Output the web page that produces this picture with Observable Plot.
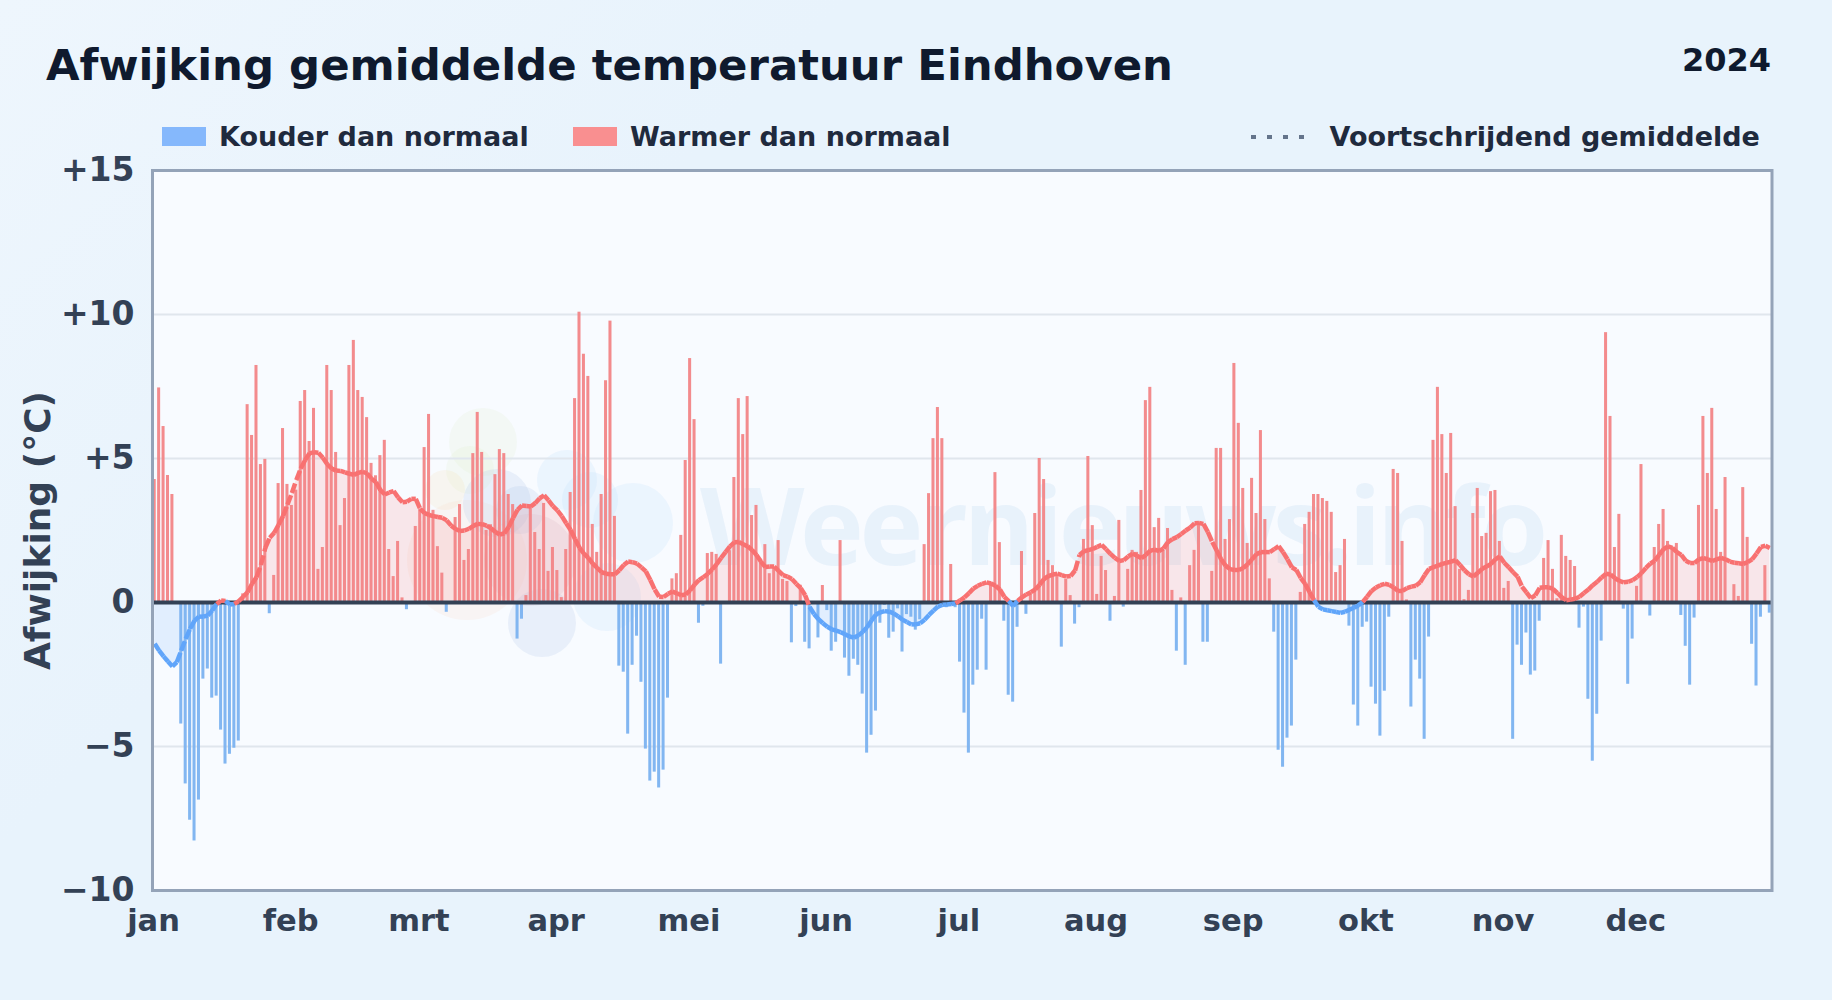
<!DOCTYPE html>
<html lang="nl">
<head>
<meta charset="utf-8">
<script src="https://cdn.jsdelivr.net/npm/d3@7"></script>
<script src="https://cdn.jsdelivr.net/npm/@observablehq/plot@0.6"></script>
<style>
html,body{margin:0;padding:0;width:1832px;height:1000px;overflow:hidden;background:linear-gradient(135deg,#eef6fd 0%,#e8f3fc 30%,#e8f3fc 100%);font-family:"DejaVu Sans",sans-serif}
#stage{position:relative;width:1832px;height:1000px}
#chart{position:absolute;left:0;top:0}
.t{position:absolute;font-weight:700;white-space:nowrap;line-height:1}
#title{left:46px;top:44px;font-size:43.4px;color:#0f1a2e}
#year{right:61px;top:44px;font-size:32px;color:#0f1a2e}
.lg{top:123px;font-size:27px;color:#1f2a3d}
.sw{position:absolute;top:127px;width:44px;height:19px}
</style>
</head>
<body>
<div id="stage">
  <div id="chart"></div>
  <div class="t" id="title">Afwijking gemiddelde temperatuur Eindhoven</div>
  <div class="t" id="year">2024</div>
  <div class="sw" style="left:162px;background:#85b8fc"></div>
  <div class="t lg" style="left:219px">Kouder dan normaal</div>
  <div class="sw" style="left:573px;background:#f98f90"></div>
  <div class="t lg" style="left:630px">Warmer dan normaal</div>
  <svg style="position:absolute;left:1251px;top:128px" width="60" height="18"><line x1="0" x2="60" y1="9" y2="9" stroke="#64748b" stroke-width="4" stroke-dasharray="5 11"></line></svg>
  <div class="t lg" style="left:1329.5px">Voortschrijdend gemiddelde</div>
</div>
<script>
const monthLabels = ["jan","feb","mrt","apr","mei","jun","jul","aug","sep","okt","nov","dec"];
const yTicks = [-10,-5,0,5,10,15];
const yTickLabels = ["−10","−5","0","+5","+10","+15"];
const deviation = [
4.27,7.45,6.11,4.41,3.75,0,-4.22,-6.3,-7.56,-8.28,
-6.86,-2.66,-2.31,-3.32,-3.25,-4.43,-5.61,-5.27,-5.06,-4.81,
.3,6.87,5.8,8.23,4.79,4.97,-.39,.94,4.13,6.04,
4.1,3.37,3.9,6.98,7.36,5.59,6.74,1.15,1.91,8.23,
7.36,5.21,2.67,3.61,8.23,9.1,7.36,7.12,6.42,4.83,
4.4,5.1,5.63,1.84,.9,2.12,.16,-.25,0,2.64,
3.25,5.38,6.53,3.2,1.94,1.02,-.34,0,2.95,3.4,
1.46,1.84,5.17,6.6,5.21,2.5,2.7,4.44,5.31,5.17,
3.75,3.4,-1.27,-.58,.24,3.33,2.43,1.84,3.44,1.08,
1.91,1.11,.17,1.84,3.82,7.08,10.08,8.62,7.85,2.71,
1.74,3.75,7.7,9.77,2.99,-2.21,-2.42,-4.57,-2.18,-1.17,
-2.77,-5.09,-6.2,-5.89,-6.44,-5.82,-3.32,.82,1.0,2.33,
4.93,8.47,6.35,-.72,-.13,1.7,1.74,1.67,-2.14,0,
1.8,4.34,7.08,5.83,7.15,3.02,3.37,1.5,2.01,1.0,
1.2,2.15,.8,.73,-1.4,-.14,.6,-1.38,-1.61,0,
-1.23,.59,-.28,-1.69,-1.38,2.15,-1.93,-2.56,-1.97,-2.18,
-3.18,-5.23,-4.61,-3.77,-.72,-.1,-1.24,-1.03,-.22,-1.72,
-.42,-.51,-.96,-.6,2.01,3.78,5.69,6.77,5.69,-.18,
1.32,-.18,-2.07,-3.84,-5.23,-2.87,-2.35,-.58,-2.35,.7,
4.51,2.08,-.65,-3.22,-3.46,-.86,1.77,-.41,.3,3.09,
5.0,4.27,1.46,1.28,.9,-1.55,.8,.24,-.75,-.18,
2.19,5.07,2.67,.28,1.6,1.11,-.65,.21,2.85,-.16,
1.15,1.81,1.74,3.89,7.01,7.47,2.6,2.92,1.8,2.57,
.42,-1.69,.16,-2.18,1.28,1.81,2.67,-1.38,-1.38,1.08,
5.35,5.35,2.19,2.88,8.3,6.22,3.96,2.05,4.31,3.09,
5.97,2.88,.82,-1.03,-5.13,-5.72,-4.71,-4.29,-2.0,.35,
2.71,3.13,3.75,3.75,3.61,3.51,3.13,1.04,1.28,2.19,
-.82,-3.56,-4.29,-.86,-.68,-2.94,-3.53,-4.64,-3.08,-.51,
4.62,4.48,2.12,.09,-3.63,-2.0,-2.66,-4.75,-1.2,5.63,
7.47,5.83,4.48,5.87,3.33,1.15,.1,.42,3.09,3.96,
2.29,2.4,3.85,3.89,2.12,.49,.73,-4.75,-1.48,-2.18,
-1.06,-2.52,-2.38,-.65,1.53,2.15,1.15,.13,2.33,1.6,
1.46,1.25,-.89,-.16,-3.36,-5.51,-3.88,-1.34,9.37,6.46,
1.91,3.06,-.23,-2.84,-1.27,.56,4.79,0,-.47,1.91,
2.71,3.23,2.12,1.92,2.05,-.45,-1.52,-2.87,-.54,3.37,
6.46,4.48,6.74,3.23,1.74,4.34,0,.62,.21,3.99,
2.26,-1.45,-2.9,-.51,1.28,-.37
];
const rolling = [
-1.43,-1.67,-1.87,-2.05,-2.22,-2.07,-1.67,-1.26,-.91,-.63,
-.49,-.49,-.45,-.28,-.05,.07,.05,-.07,-.05,.05,
.2,.36,.65,.88,1.3,1.9,2.25,2.42,2.7,3.0,
3.4,3.8,4.25,4.65,4.95,5.18,5.22,5.2,5.03,4.8,
4.65,4.58,4.57,4.52,4.47,4.43,4.5,4.54,4.48,4.3,
4.18,3.9,3.75,3.82,3.87,3.65,3.48,3.5,3.6,3.6,
3.25,3.1,3.04,3.0,2.97,2.94,2.85,2.67,2.55,2.48,
2.5,2.56,2.66,2.73,2.72,2.67,2.58,2.45,2.36,2.4,
2.62,2.94,3.22,3.37,3.35,3.33,3.45,3.62,3.72,3.55,
3.35,3.2,3.0,2.75,2.52,2.2,1.9,1.7,1.55,1.35,
1.2,1.05,1.0,.98,.98,1.12,1.3,1.42,1.4,1.35,
1.22,1.08,.78,.45,.2,.19,.3,.38,.32,.25,
.28,.42,.62,.78,.88,1.0,1.15,1.33,1.55,1.75,
1.95,2.09,2.1,2.02,1.95,1.82,1.65,1.42,1.23,1.25,
1.25,1.1,.95,.9,.82,.65,.5,.25,-.15,-.4,
-.58,-.72,-.84,-.93,-.98,-1.03,-1.1,-1.18,-1.22,-1.15,
-1.02,-.86,-.62,-.42,-.34,-.3,-.32,-.38,-.48,-.6,
-.68,-.76,-.76,-.72,-.6,-.43,-.28,-.14,-.08,-.07,
-.05,-.03,.07,.18,.32,.48,.58,.65,.7,.66,
.58,.45,.2,.05,-.12,.05,.18,.28,.36,.45,
.62,.82,.92,.97,1.0,.95,.9,.92,1.11,1.65,
1.78,1.82,1.86,1.93,2.0,1.85,1.69,1.55,1.44,1.47,
1.6,1.7,1.62,1.54,1.65,1.8,1.83,1.79,1.88,2.1,
2.2,2.27,2.38,2.5,2.6,2.75,2.76,2.73,2.45,2.1,
1.81,1.5,1.28,1.16,1.13,1.13,1.2,1.33,1.5,1.68,
1.75,1.75,1.75,1.85,1.96,1.75,1.5,1.22,1.13,.85,
.65,.36,.08,-.15,-.24,-.27,-.3,-.33,-.36,-.32,
-.25,-.18,-.1,.02,.2,.4,.52,.6,.65,.61,
.52,.4,.4,.5,.55,.58,.7,.95,1.17,1.23,
1.28,1.34,1.38,1.42,1.47,1.3,1.12,.98,.9,1.03,
1.17,1.25,1.34,1.5,1.6,1.38,1.22,1.05,.9,.55,
.35,.15,.25,.51,.53,.53,.47,.33,.18,.08,
.1,.13,.2,.33,.45,.6,.72,.87,1.0,.97,
.85,.75,.7,.72,.78,.88,1.02,1.2,1.35,1.45,
1.65,1.85,1.95,1.9,1.75,1.65,1.45,1.37,1.37,1.5,
1.54,1.5,1.44,1.5,1.55,1.5,1.42,1.38,1.36,1.34,
1.4,1.5,1.7,1.93,1.97,1.89
];

const RED = "#f87171", BLUE = "#60a5fa";
const dayStart = i => new Date(Date.UTC(2024,0,1+i));
const dayMid = i => new Date(Date.UTC(2024,0,1+i,12));
const bars = deviation.map((v,i)=>({v, a:dayStart(i), b:dayStart(i+1)}));
const avg = rolling.map((v,i)=>({v, x:dayMid(i)}));
const segs = avg.slice(1).map((p,i)=>({x1:avg[i].x,y1:avg[i].v,x2:p.x,y2:p.v,neg:(avg[i].v+p.v)<0}));
const monthStarts = monthLabels.map((_,m)=>new Date(Date.UTC(2024,m,1)));

function watermark(index, scales, values, dim){
  const g = d3.create("svg:g").attr("pointer-events","none");
  const blobs = [
    [483,442,34,"#dcefc0",.16],[470,470,24,"#dcefc0",.16],[445,490,20,"#f5dcae",.18],
    [467,560,60,"#fbd9c0",.18],[497,503,34,"#a8c4e6",.2],[520,510,24,"#a8c4e6",.2],
    [567,480,30,"#bfe0fa",.22],[590,500,28,"#bfe0fa",.22],[633,523,40,"#bfe0fa",.22],
    [607,597,34,"#bfe0fa",.22],[542,623,34,"#a8c4e6",.2],[530,560,46,"#d8c8d8",.25]
  ];
  for (const [cx,cy,r,f,o] of blobs) g.append("circle").attr("cx",cx).attr("cy",cy).attr("r",r).attr("fill",f).attr("fill-opacity",o);
  g.append("text").attr("x",700).attr("y",565).attr("text-anchor","start").attr("font-family","'Open Sans',sans-serif").attr("font-weight",700)
   .attr("font-size",108).attr("fill","#b9d4ee").attr("fill-opacity",.24).attr("textLength",848).text("Weernieuws.info");
  return g.node();
}

const chart = Plot.plot({
  width:1832, height:1000,
  marginTop:170, marginBottom:110, marginLeft:152, marginRight:60.5,
  style:{background:"transparent", fontFamily:"'DejaVu Sans',sans-serif", overflow:"visible"},
  x:{type:"utc", domain:[new Date(Date.UTC(2024,0,1)), new Date(Date.UTC(2025,0,1))]},
  y:{domain:[-10,15]},
  marks:[
    Plot.frame({fill:"#f8fbff", stroke:null}),
    watermark,
    Plot.gridY(yTicks.filter(t=>t!==0&&t!==15&&t!==-10),{stroke:"#e0e6ed", strokeWidth:2, strokeOpacity:1}),
    Plot.areaY(avg,{x:"x", y1:0, y2:d=>Math.max(d.v,0), fill:RED, fillOpacity:.15, curve:"linear"}),
    Plot.areaY(avg,{x:"x", y1:0, y2:d=>Math.min(d.v,0), fill:BLUE, fillOpacity:.15, curve:"linear"}),
    Plot.rect(bars.filter(d=>d.v>0),{x1:"a", x2:"b", y1:0, y2:"v", fill:"#f28587", fillOpacity:.95, insetLeft:.7, insetRight:.7}),
    Plot.rect(bars.filter(d=>d.v<0),{x1:"a", x2:"b", y1:0, y2:"v", fill:"#7bb2f0", fillOpacity:.95, insetLeft:.7, insetRight:.7}),
    Plot.ruleY([0],{stroke:"#334155", strokeWidth:4}),
    Plot.link(segs,{x1:"x1", y1:"y1", x2:"x2", y2:"y2", stroke:d=>d.neg?BLUE:RED, strokeWidth:4.5, strokeDasharray:"10 4", curve:"linear"}),
    Plot.frame({stroke:"#94a3b8", strokeWidth:3}),
    Plot.axisY({ticks:yTicks, tickSize:0, tickPadding:18, fontSize:33, fontWeight:700, fill:"#334155",
      tickFormat:t=>yTickLabels[yTicks.indexOf(t)], label:null}),
    Plot.axisY({ticks:[], tickSize:0, fontSize:36, fontWeight:700, fill:"#334155",
      label:"Afwijking (°C)", labelAnchor:"center", labelArrow:"none", labelOffset:128}),
    Plot.axisX({ticks:monthStarts, tickSize:0, tickPadding:19, fontSize:30.5, fontWeight:700, fill:"#334155", dx:1,
      tickFormat:t=>monthLabels[t.getUTCMonth()], label:null})
  ]
});
document.getElementById("chart").append(chart);
</script>
</body>
</html>
